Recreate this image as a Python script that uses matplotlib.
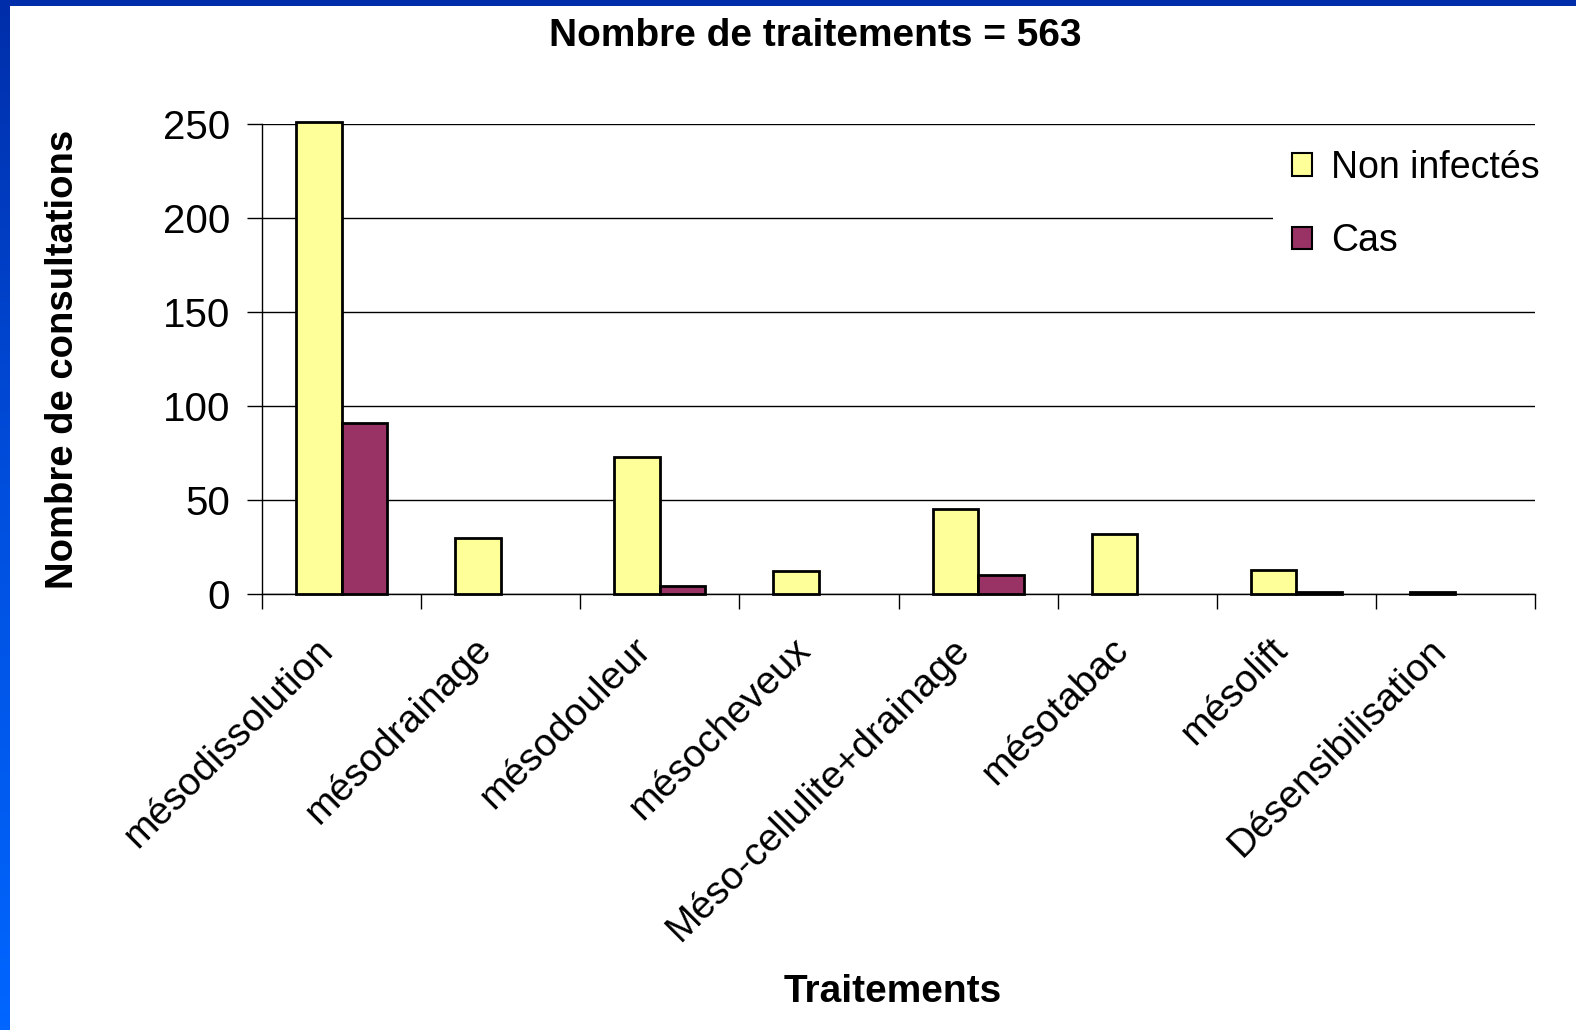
import numpy as np
import matplotlib
matplotlib.use("Agg")
import matplotlib.pyplot as plt
from matplotlib.patches import Rectangle, Patch
from matplotlib.colors import LinearSegmentedColormap

categories = ["mésodissolution", "mésodrainage", "mésodouleur", "mésocheveux",
              "Méso-cellulite+drainage", "mésotabac", "mésolift", "Désensibilisation"]
non_infectes = [251, 30, 73, 12, 45, 32, 13, 1]
cas = [91, 0, 4, 0, 10, 0, 1, 0]
yticks = [0, 50, 100, 150, 200, 250]

plt.rcParams['font.family'] = ['Liberation Sans', 'DejaVu Sans']

W, H = 1576, 1030
fig = plt.figure(figsize=(W / 100, H / 100), dpi=100)
fig.patch.set_facecolor('white')

# blue frame: left gradient band and top band
bg = fig.add_axes([0, 0, 10 / W, 1])
grad = np.linspace(0, 1, 256).reshape(-1, 1)
cmap = LinearSegmentedColormap.from_list('b', ['#0066FF', '#0050E0', '#002EAA'])
bg.imshow(grad, aspect='auto', cmap=cmap, origin='lower', extent=[0, 1, 0, 1])
bg.axis('off')
fig.patches.append(Rectangle((0, 1 - 6 / H), 1, 6 / H, transform=fig.transFigure,
                             facecolor='#002EAA', edgecolor='none', zorder=5))

ax = fig.add_axes([262 / W, 1 - 594 / H, (1535 - 262) / W, (594 - 124) / H])
x = np.arange(len(categories))
w = 1 / 3.5
yellow = '#FFFF99'
purple = '#993366'
lw1 = [2 if v > 0 else 0 for v in non_infectes]
lw2 = [2 if v > 0 else 0 for v in cas]
b1 = ax.bar(x - w / 2, non_infectes, w, color=yellow, edgecolor='black', linewidth=lw1, zorder=3)
b2 = ax.bar(x + w / 2, cas, w, color=purple, edgecolor='black', linewidth=lw2, zorder=3)
for p in list(b1) + list(b2):
    p.set_clip_on(False)

ax.set_xlim(-0.5, len(categories) - 0.5)
ax.set_ylim(0, 250)
ax.set_yticks(yticks)
ax.yaxis.grid(True, color='black', linewidth=1)
ax.set_axisbelow(True)
for s in ['top', 'right']:
    ax.spines[s].set_visible(False)
for s in ['left', 'bottom']:
    ax.spines[s].set_linewidth(1)

ax.set_xticks(np.arange(len(categories) + 1) - 0.5)
ax.set_xticklabels([])
ax.tick_params(axis='x', length=11, width=1, direction='out')
ax.tick_params(axis='y', length=11, width=1, direction='out', labelsize=29, pad=12)
for i, c in enumerate(categories):
    ax.text(i - 0.17, -20, c, rotation=45, ha='right', va='top', rotation_mode='anchor',
            fontsize=28)

ax.set_ylabel('Nombre de consultations', fontsize=27.5, fontweight='bold')
ax.yaxis.set_label_coords(-0.142, 0.5)
fig.text(893 / W, 1 - 992 / H, 'Traitements', ha='center', va='center',
         fontsize=28, fontweight='bold')
fig.text(815 / W, 1 - 36 / H, 'Nombre de traitements = 563', ha='center', va='center',
         fontsize=28, fontweight='bold')

handles = [Patch(facecolor=yellow, edgecolor='black', linewidth=1.5),
           Patch(facecolor=purple, edgecolor='black', linewidth=1.5)]
leg = fig.legend(handles, ['Non infectés', 'Cas'], loc='upper left',
                 bbox_to_anchor=(1273 / W, 1 - 131 / H), fontsize=27, frameon=True,
                 handlelength=0.55, handleheight=0.55, handletextpad=0.5,
                 labelspacing=1.0, borderpad=0.5, borderaxespad=0)
leg.get_frame().set_facecolor('white')
leg.get_frame().set_edgecolor('none')
leg.get_frame().set_alpha(1)

fig.savefig('out.png', dpi=100, facecolor='white')
